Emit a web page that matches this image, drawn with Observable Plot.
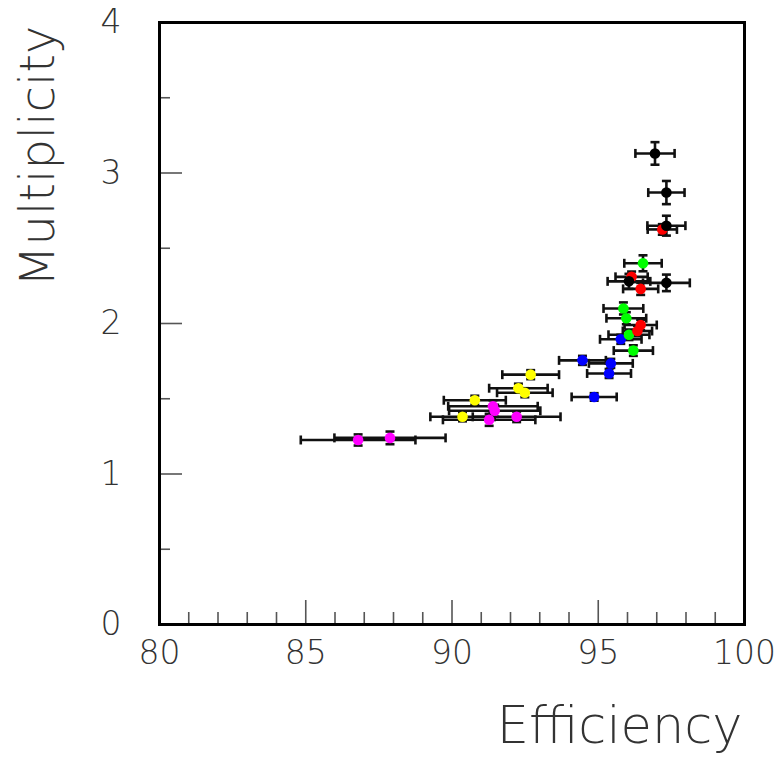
<!DOCTYPE html>
<html>
<head>
<meta charset="utf-8">
<script src="https://cdn.jsdelivr.net/npm/d3@7"></script>
<script src="https://cdn.jsdelivr.net/npm/@observablehq/plot@0.6"></script>
<style>
  html, body { margin: 0; padding: 0; background: #fff; }
  #chart svg { display: block; }
</style>
</head>
<body>
<div id="chart"></div>
<script>
// ---- data ----
const groupNames  = ["magenta", "yellow", "blue", "green", "red", "black"];
const groupColors = ["#ff00ff", "#ffff00", "#0000ff", "#00ff00", "#ff0000", "#000000"];

// one entry per measured point
const pointGroup = [
  "magenta","magenta","magenta","magenta","magenta","magenta",
  "yellow","yellow","yellow","yellow","yellow",
  "blue","blue","blue","blue","blue",
  "green","green","green","green","green",
  "red","red","red","red","red",
  "black","black","black","black","black"
];
const efficiency = [
  91.40, 91.46, 92.21, 91.27, 86.79, 87.88,
  92.69, 92.27, 92.49, 90.78, 90.36,
  95.77, 94.46, 95.43, 95.37, 94.86,
  96.53, 95.86, 95.96, 96.05, 96.20,
  97.19, 96.14, 96.45, 96.45, 96.34,
  96.94, 97.33, 97.33, 96.05, 97.33
];
const efficiencyErr = [
  1.53, 1.56, 1.50, 1.58, 1.96, 1.90,
  0.97, 1.00, 0.95, 1.06, 1.10,
  0.71, 0.80, 0.75, 0.75, 0.77,
  0.64, 0.68, 0.68, 0.70, 0.67,
  0.50, 0.55, 0.60, 0.55, 0.50,
  0.67, 0.62, 0.65, 0.73, 0.80
];
const multiplicity = [
  1.450, 1.420, 1.380, 1.360, 1.226, 1.240,
  1.660, 1.570, 1.540, 1.490, 1.380,
  1.895, 1.755, 1.735, 1.668, 1.512,
  2.400, 2.100, 2.035, 1.925, 1.820,
  2.625, 2.310, 2.230, 1.990, 1.950,
  3.130, 2.870, 2.650, 2.280, 2.270
];
const multiplicityErr = [
  0.040, 0.040, 0.035, 0.040, 0.037, 0.042,
  0.030, 0.030, 0.030, 0.030, 0.030,
  0.030, 0.030, 0.030, 0.030, 0.025,
  0.053, 0.040, 0.040, 0.035, 0.035,
  0.035, 0.035, 0.040, 0.035, 0.035,
  0.075, 0.077, 0.066, 0.050, 0.055
];

const xMajorTicks = [80, 85, 90, 95, 100];
const xMinorTicks = [81, 82, 83, 84, 86, 87, 88, 89, 91, 92, 93, 94, 96, 97, 98, 99];
const yMajorTicks = [0, 1, 2, 3, 4];
const yMinorTicks = [0.5, 1.5, 2.5, 3.5];

const xLabel = "Efficiency";
const yLabel = "Multiplicity";

// ---- build table ----
const points = efficiency.map((x, i) => ({
  x, y: multiplicity[i], xe: efficiencyErr[i], ye: multiplicityErr[i], g: pointGroup[i]
}));
const colorOf = g => groupColors[groupNames.indexOf(g)];

// small cap symbols for the error bar ends
const capV = { draw(ctx, size) { const h = Math.sqrt(size / Math.PI); ctx.moveTo(0, -h); ctx.lineTo(0, h); } };
const capH = { draw(ctx, size) { const h = Math.sqrt(size / Math.PI); ctx.moveTo(-h, 0); ctx.lineTo(h, 0); } };

const font = "'DejaVu Sans', sans-serif";
const labelWeight = 200;

const chart = Plot.plot({
  width: 782,
  height: 762,
  marginLeft: 159,
  marginRight: 38,
  marginTop: 22,
  marginBottom: 138,
  style: { fontFamily: font, background: "#fff" },
  x: { domain: [80, 100] },
  y: { domain: [0, 4] },
  marks: [
    // tick marks (inside frame)
    Plot.axisX({ ticks: xMinorTicks, tickSize: -12, text: null, stroke: "#555", strokeWidth: 1.6, label: null }),
    Plot.axisX({ ticks: xMajorTicks, tickSize: -24, text: null, stroke: "#555", strokeWidth: 1.6, label: null }),
    Plot.axisY({ ticks: yMinorTicks, tickSize: -11, text: null, stroke: "#555", strokeWidth: 1.6, label: null }),
    Plot.axisY({ ticks: yMajorTicks, tickSize: -23, text: null, stroke: "#555", strokeWidth: 1.6, label: null }),
    // tick labels
    Plot.axisX({ ticks: xMajorTicks, tickFormat: "d", tickSize: 0, tickPadding: 16, fontSize: 33, fill: "#333", fontWeight: labelWeight, label: null }),
    Plot.axisY({ ticks: yMajorTicks, tickFormat: "d", tickSize: 0, tickPadding: 38, fontSize: 33, fill: "#333", fontWeight: labelWeight, label: null }),
    // error bars
    Plot.ruleY(points, { y: "y", x1: d => d.x - d.xe, x2: d => d.x + d.xe, stroke: "#111", strokeWidth: 2.6 }),
    Plot.ruleX(points, { x: "x", y1: d => d.y - d.ye, y2: d => d.y + d.ye, stroke: "#111", strokeWidth: 2.6 }),
    Plot.dot(points, { x: d => d.x - d.xe, y: "y", symbol: capV, r: 4.5, stroke: "#111", strokeWidth: 2.6 }),
    Plot.dot(points, { x: d => d.x + d.xe, y: "y", symbol: capV, r: 4.5, stroke: "#111", strokeWidth: 2.6 }),
    Plot.dot(points, { x: "x", y: d => d.y - d.ye, symbol: capH, r: 4.5, stroke: "#111", strokeWidth: 2.6 }),
    Plot.dot(points, { x: "x", y: d => d.y + d.ye, symbol: capH, r: 4.5, stroke: "#111", strokeWidth: 2.6 }),
    // markers
    Plot.dot(points, { x: "x", y: "y", r: 5.3, fill: d => colorOf(d.g), stroke: "none" }),
    // frame
    Plot.frame({ stroke: "#000", strokeWidth: 3 }),
    // axis titles
    Plot.text([xLabel], { frameAnchor: "bottom-right", textAnchor: "end", lineAnchor: "bottom", dx: -2, dy: 118, fontSize: 51, fill: "#333", fontWeight: labelWeight }),
    Plot.text([yLabel], { frameAnchor: "top-left", textAnchor: "end", lineAnchor: "bottom", rotate: -90, dx: -106, dy: 3, fontSize: 48, fill: "#333", fontWeight: labelWeight })
  ]
});

document.getElementById("chart").appendChild(chart);
</script>
</body>
</html>
